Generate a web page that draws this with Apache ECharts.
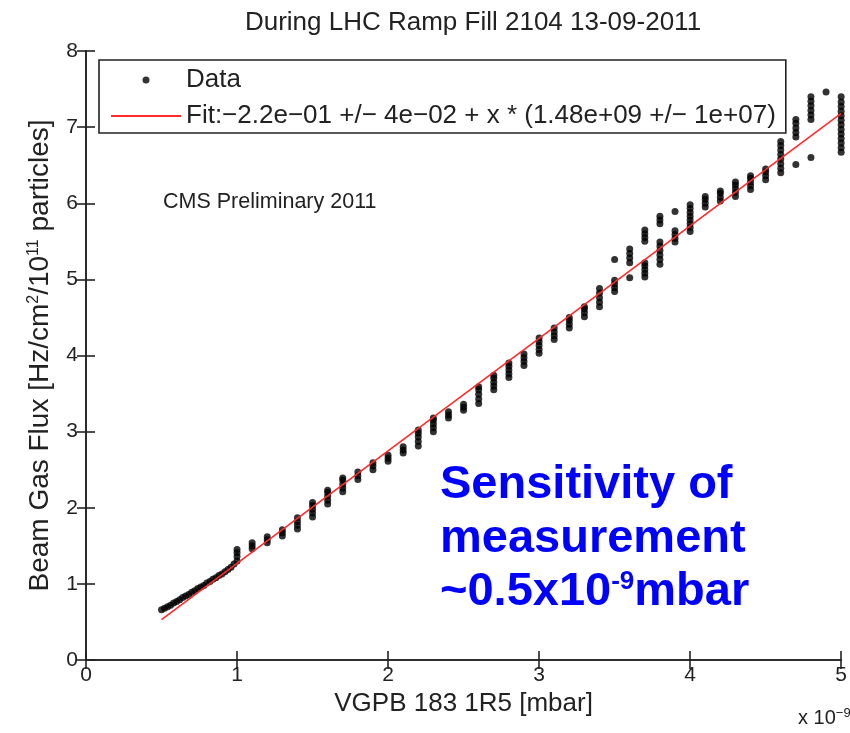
<!DOCTYPE html>
<html>
<head>
<meta charset="utf-8">
<script src="https://cdn.jsdelivr.net/npm/echarts@6/dist/echarts.min.js"></script>
<style>
  html, body { margin: 0; padding: 0; background: #fff; }
  #chart { width: 850px; height: 733px; }
</style>
</head>
<body>
<div id="chart"></div>
<script>
// x values are in units of 1e-9 mbar (axis shows "x 10^-9")
const bandX = [0.50, 0.52, 0.54, 0.56, 0.58, 0.60, 0.62, 0.64, 0.66, 0.68, 0.70, 0.72, 0.74,
  0.76, 0.78, 0.80, 0.82, 0.84, 0.86, 0.88, 0.90, 0.92, 0.94, 0.96, 0.98];
const bandY = [0.66, 0.68, 0.70, 0.72, 0.75, 0.77, 0.79, 0.82, 0.84, 0.86, 0.89, 0.91, 0.94,
  0.96, 0.98, 1.01, 1.03, 1.06, 1.08, 1.11, 1.13, 1.16, 1.19, 1.22, 1.26];

// vertical streaks of points, one per pressure step
const clusterX = [1.00, 1.10, 1.20, 1.30, 1.40, 1.50, 1.60, 1.70, 1.80, 1.90,
  2.00, 2.10, 2.20, 2.30, 2.40, 2.50, 2.60, 2.70, 2.80, 2.90,
  3.00, 3.10, 3.20, 3.30, 3.40, 3.50, 3.60, 3.70, 3.80, 3.90,
  4.00, 4.10, 4.20, 4.30, 4.40, 4.50, 4.60, 4.70, 4.80, 4.90, 5.00];
const clusterY = [
  [1.30, 1.36, 1.41, 1.45],
  [1.46, 1.50, 1.54],
  [1.54, 1.58, 1.62],
  [1.63, 1.67, 1.71],
  [1.72, 1.77, 1.82, 1.87],
  [1.88, 1.93, 1.98, 2.03, 2.07],
  [2.05, 2.10, 2.15, 2.20, 2.23],
  [2.21, 2.26, 2.31, 2.36, 2.39],
  [2.37, 2.42, 2.47],
  [2.50, 2.55, 2.59],
  [2.61, 2.65, 2.69],
  [2.72, 2.76, 2.80],
  [2.81, 2.87, 2.93, 2.98, 3.02],
  [3.00, 3.05, 3.10, 3.15, 3.18],
  [3.18, 3.22, 3.26],
  [3.28, 3.32, 3.36],
  [3.37, 3.43, 3.49, 3.55, 3.59],
  [3.55, 3.60, 3.65, 3.70, 3.74],
  [3.71, 3.76, 3.81, 3.86, 3.90],
  [3.87, 3.92, 3.97, 4.02],
  [4.03, 4.08, 4.13, 4.18, 4.23],
  [4.21, 4.26, 4.31, 4.36],
  [4.36, 4.41, 4.46, 4.50],
  [4.51, 4.56, 4.61, 4.64],
  [4.64, 4.70, 4.76, 4.82, 4.88],
  [4.84, 4.89, 4.94, 4.99, 5.26],
  [5.02, 5.22, 5.28, 5.34, 5.40],
  [5.03, 5.08, 5.13, 5.18, 5.22, 5.50, 5.55, 5.60, 5.65],
  [5.20, 5.26, 5.32, 5.38, 5.44, 5.49, 5.73, 5.78, 5.83],
  [5.49, 5.54, 5.59, 5.64, 5.89],
  [5.63, 5.68, 5.73, 5.78, 5.83, 5.88, 5.93, 5.98],
  [5.95, 6.00, 6.05, 6.09],
  [6.03, 6.08, 6.13, 6.16],
  [6.09, 6.14, 6.19, 6.24, 6.28],
  [6.18, 6.23, 6.28, 6.33, 6.36],
  [6.31, 6.36, 6.41, 6.45],
  [6.40, 6.46, 6.52, 6.58, 6.64, 6.70, 6.76, 6.81],
  [6.51, 6.87, 6.93, 6.99, 7.05, 7.10],
  [6.60, 7.10, 7.16, 7.22, 7.28, 7.34, 7.40],
  [7.46],
  [6.67, 6.73, 6.79, 6.85, 6.91, 6.97, 7.03, 7.09, 7.15, 7.21, 7.27, 7.33, 7.40]
];

// fit line end points
const fitX = [0.5, 5.0];
const fitY = [0.53, 7.18];

const fitName = 'Fit:\u22122.2e\u221201 +/\u2212 4e\u221202 + x * (1.48e+09 +/\u2212 1e+07)';

let points = bandX.map((x, i) => [x, bandY[i]]);
clusterX.forEach((x, i) => {
  clusterY[i].forEach((y) => points.push([x, y]));
});

let chartDom = document.getElementById('chart');
let myChart = echarts.init(chartDom);
let option;

const font = 'Liberation Sans, Arial, sans-serif';
const ink = '#222';
const blue = '#0000ff';

const axisCommon = {
  type: 'value',
  axisLine: { show: true, lineStyle: { color: ink, width: 1.6 } },
  axisTick: { show: true, inside: true, length: 9, lineStyle: { color: ink, width: 1.6 } },
  splitLine: { show: false },
};

option = {
  animation: false,
  backgroundColor: '#fff',
  title: {
    text: 'During LHC Ramp Fill 2104 13-09-2011',
    left: 468,
    textAlign: 'center',
    top: 5,
    textStyle: { fontFamily: font, fontSize: 26, fontWeight: 'normal', color: ink },
  },
  grid: {
    left: 86,
    right: 7,
    top: 51,
    bottom: 73,
  },
  legend: {
    left: 99,
    top: 60,
    orient: 'vertical',
    itemWidth: 70,
    itemHeight: 7,
    itemGap: 10,
    padding: [7, 10, 4, 11],
    borderColor: ink,
    borderWidth: 1.6,
    backgroundColor: '#fff',
    textStyle: { fontFamily: font, fontSize: 26, color: ink },
    data: [
      { name: 'Data', icon: 'circle' },
      { name: fitName },
    ],
  },
  xAxis: [
    Object.assign({}, axisCommon, {
      min: 0,
      max: 5,
      interval: 1,
      position: 'bottom',
      name: 'VGPB 183 1R5 [mbar]',
      nameLocation: 'middle',
      nameGap: 21,
      nameTextStyle: { fontFamily: font, fontSize: 26, color: ink },
      axisLabel: { fontFamily: font, fontSize: 21, color: ink, margin: 5 },
    }),
    Object.assign({}, axisCommon, {
      min: 0,
      max: 5,
      interval: 1,
      position: 'top',
      axisLabel: { show: false },
    }),
  ],
  yAxis: [
    Object.assign({}, axisCommon, {
      min: 0,
      max: 8,
      interval: 1,
      position: 'left',
      name: 'Beam Gas Flux [Hz/cm{sup|2}/10{sup|11} particles]',
      nameLocation: 'middle',
      nameGap: 32,
      nameTextStyle: {
        fontFamily: font,
        fontSize: 28,
        color: ink,
        rich: { sup: { fontFamily: font, fontSize: 16, color: ink, verticalAlign: 'top', lineHeight: 28 } },
      },
      axisLabel: { fontFamily: font, fontSize: 21, color: ink, margin: 8 },
    }),
    Object.assign({}, axisCommon, {
      min: 0,
      max: 8,
      interval: 1,
      position: 'right',
      axisLabel: { show: false },
    }),
  ],
  graphic: [
    {
      type: 'text',
      left: 163,
      top: 191,
      style: { text: 'CMS Preliminary 2011', font: '21.5px ' + font, fill: ink },
    },
    {
      type: 'text',
      left: 798,
      top: 707,
      style: {
        text: 'x 10{sup|\u22129}',
        font: '20px ' + font,
        fill: ink,
        rich: { sup: { font: '13px ' + font, fill: ink, verticalAlign: 'top', lineHeight: 22 } },
      },
    },
    {
      type: 'text',
      left: 440,
      top: 462,
      style: { text: 'Sensitivity of', font: 'bold 47px ' + font, fill: blue },
    },
    {
      type: 'text',
      left: 440,
      top: 516,
      style: { text: 'measurement', font: 'bold 47px ' + font, fill: blue },
    },
    {
      type: 'text',
      left: 440,
      top: 569,
      style: {
        text: '~0.5x10{sup|-9}mbar',
        font: 'bold 47px ' + font,
        fill: blue,
        rich: {
          sup: { font: 'bold 26px ' + font, fill: blue, verticalAlign: 'top', lineHeight: 47 },
        },
      },
    },
  ],
  series: [
    {
      name: 'Data',
      type: 'scatter',
      symbol: 'circle',
      symbolSize: 7,
      itemStyle: { color: '#000' },
      data: points,
      z: 2,
    },
    {
      name: fitName,
      type: 'line',
      showSymbol: false,
      symbol: 'none',
      itemStyle: { color: 'rgba(0,0,0,0)', borderWidth: 0 },
      lineStyle: { color: '#ff2a2a', width: 1.6 },
      data: fitX.map((x, i) => [x, fitY[i]]),
      z: 3,
    },
  ],
};

option && myChart.setOption(option);
</script>
</body>
</html>
